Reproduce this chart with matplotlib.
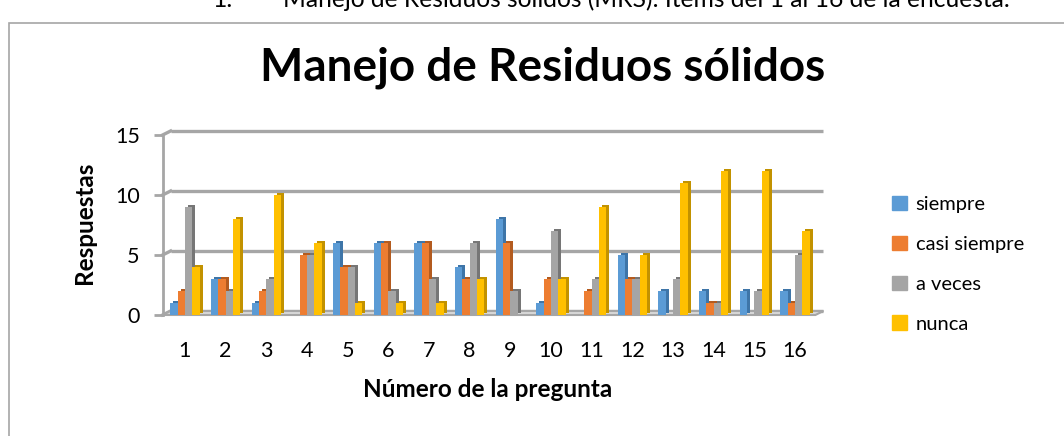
import matplotlib
matplotlib.use("Agg")
import matplotlib.pyplot as plt
import numpy as np
from matplotlib.transforms import offset_copy, IdentityTransform
from matplotlib.patches import Polygon, Rectangle
from matplotlib.lines import Line2D

# ---- data ----
questions = [str(i) for i in range(1, 17)]
siempre = [1, 3, 1, 0, 6, 6, 6, 4, 8, 1, 0, 5, 2, 2, 2, 2]
casi_siempre = [2, 3, 2, 5, 4, 6, 6, 3, 6, 3, 2, 3, 0, 1, 0, 1]
a_veces = [9, 2, 3, 5, 4, 2, 3, 6, 2, 7, 3, 3, 3, 1, 2, 5]
nunca = [4, 8, 10, 6, 1, 1, 1, 3, 0, 3, 9, 5, 11, 12, 12, 7]
series_names = ["siempre", "casi siempre", "a veces", "nunca"]
y_ticks = [0, 5, 10, 15]

title = "Manejo de Residuos sólidos"
caption_num = "1."
caption = "Manejo de Residuos sólidos (MRS): Ítems del 1 al 16 de la encuesta."
xlabel = "Número de la pregunta"
ylabel = "Respuestas"

colors = ["#5B9BD5", "#ED7D31", "#A5A5A5", "#FFC000"]
dark = ["#3E75A8", "#B35B1F", "#767676", "#C29200"]
grid_c = "#A6A6A6"

plt.rcParams["font.family"] = ["Lato", "DejaVu Sans"]

W, H = 1064, 436
fig = plt.figure(figsize=(W / 100, H / 100), dpi=100)

def px(x0, y0, x1, y1):
    return [x0 / W, 1 - y1 / H, (x1 - x0) / W, (y1 - y0) / H]

ax = fig.add_axes(px(162.6, 135, 815.4, 315))
ax.set_xlim(0.45, 16.5)
ax.set_ylim(0, 15)
ax.patch.set_alpha(0)

DX, DY = 8, 4  # depth offset (px)
back = offset_copy(ax.transData, fig=fig, x=DX, y=DY, units="dots")

# back-wall gridlines
ax.hlines(y_ticks, 0.45, 16.5, colors=grid_c, lw=2.4, transform=back, zorder=1, clip_on=False)
# side-wall diagonals and floor
for yv in y_ticks:
    p0 = ax.transData.transform((0.45, yv))
    ax.add_line(Line2D([p0[0], p0[0] + DX], [p0[1], p0[1] + DY], color=grid_c, lw=2.4,
                       transform=IdentityTransform(), clip_on=False, zorder=1))
fl = ax.transData.transform((0.45, 0))
fr = ax.transData.transform((16.5, 0))
floor = Polygon([fl, fr, fr + [DX, DY], fl + [DX, DY]], closed=True, facecolor="#D9D9D9",
                edgecolor=grid_c, lw=1.5, transform=IdentityTransform(), clip_on=False, zorder=1.5)
ax.add_patch(floor)

# bars with pseudo-3D side
x = np.arange(1, 17)
bw = 0.185
offs = [-0.27, -0.09, 0.09, 0.27]
shade = offset_copy(ax.transData, fig=fig, x=3, y=2, units="dots")
for i, vals in enumerate([siempre, casi_siempre, a_veces, nunca]):
    ax.bar(x + offs[i], vals, bw, color=dark[i], transform=shade, zorder=2 + i * 0.01, clip_on=False)
    ax.bar(x + offs[i], vals, bw, color=colors[i], zorder=2.5 + i * 0.01, clip_on=False,
           label=series_names[i])

# axes styling
for s in ["top", "right", "bottom"]:
    ax.spines[s].set_visible(False)
ax.spines["left"].set_color(grid_c)
ax.spines["left"].set_linewidth(2)
ax.set_yticks(y_ticks)
ax.tick_params(axis="y", length=6.5, width=2, color=grid_c, pad=10, labelsize=15.5, labelcolor="#000000")
ax.set_xticks(x)
ax.set_xticklabels(questions)
ax.tick_params(axis="x", length=0, pad=19, labelsize=15.5, labelcolor="#000000")

# texts
fig.text(543 / W, 1 - 68 / H, title, ha="center", va="center", fontsize=33, fontweight="bold")
fig.text(85 / W, 1 - 223 / H, ylabel, ha="center", va="center", rotation=90, fontsize=17.5, fontweight="bold")
fig.text(488 / W, 1 - 389 / H, xlabel, ha="center", va="center", fontsize=17.5, fontweight="bold")
fig.text(213 / W, 1 - 7 / H, caption_num, ha="left", va="baseline", fontsize=17.7)
fig.text(283 / W, 1 - 7 / H, caption, ha="left", va="baseline", fontsize=17.7)

# chart border
fig.add_artist(Rectangle((9, -20), W + 20, H - 23 + 20, transform=IdentityTransform(),
                         fill=False, edgecolor="#A6A6A6", lw=1.2))

# legend
handles = [Rectangle((0, 0), 1, 1, color=c) for c in colors]
fig.legend(handles, series_names, loc="upper left", bbox_to_anchor=(884 / W, 1 - 188 / H),
           frameon=False, fontsize=14.5, handlelength=0.72, handleheight=0.72,
           handletextpad=0.45, labelspacing=1.12, borderaxespad=0)

fig.savefig("out.png", dpi=100)
